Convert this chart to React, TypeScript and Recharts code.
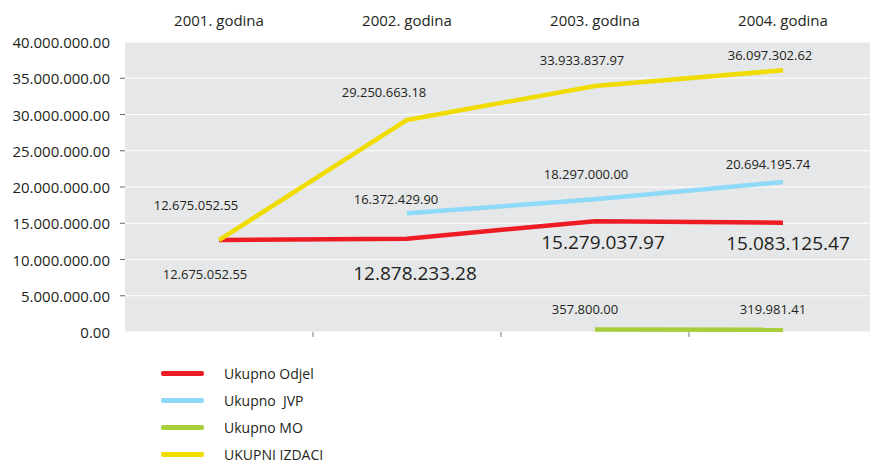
import React from 'react';
import { LineChart, Line, XAxis, YAxis, CartesianGrid, LabelList } from 'recharts';

const years = ['2001. godina', '2002. godina', '2003. godina', '2004. godina'];
const odjel = [12675052.55, 12878233.28, 15279037.97, 15083125.47];
const jvp = [null, 16372429.9, 18297000.0, 20694195.74];
const mo = [null, null, 357800.0, 319981.41];
const ukupno = [12675052.55, 29250663.18, 33933837.97, 36097302.62];
const yTicks = [0, 5000000, 10000000, 15000000, 20000000, 25000000, 30000000, 35000000, 40000000];

const data = years.map((year, i) => ({
  year,
  odjel: odjel[i],
  jvp: jvp[i],
  mo: mo[i],
  ukupno: ukupno[i],
}));

const fmt = (v: number) => {
  const [int, dec] = Math.abs(v).toFixed(2).split('.');
  return int.replace(/\B(?=(\d{3})+(?!\d))/g, '.') + '.' + dec;
};

const series = [
  { key: 'odjel', name: 'Ukupno Odjel', color: '#ed1c24' },
  { key: 'jvp', name: 'Ukupno  JVP', color: '#8ed8f8' },
  { key: 'mo', name: 'Ukupno MO', color: '#a6ce39' },
  { key: 'ukupno', name: 'UKUPNI IZDACI', color: '#f0dc00' },
];

// label placement (style, not data)
const labelStyle: Record<string, { dx: number[]; dy: number[]; size: number[] }> = {
  odjel: { dx: [-14, 8, 8, 5], dy: [34, 34, 21, 20], size: [13, 19, 19, 19] },
  jvp: { dx: [0, -11, -9, -15], dy: [0, -14, -25, -18], size: [13, 13, 13, 13] },
  mo: { dx: [0, 0, -10, -10], dy: [0, 0, -20, -21], size: [13, 13, 13, 13] },
  ukupno: { dx: [-23, -23, -13, -13], dy: [-35, -28, -26, -15], size: [13, 13, 13, 13] },
};

const makeLabel = (key: string) => (props: any) => {
  const { x, y, value, index } = props;
  if (value === null || value === undefined) return null;
  const s = labelStyle[key];
  return (
    <text
      x={x + s.dx[index]}
      y={y + s.dy[index]}
      textAnchor="middle"
      dominantBaseline="central"
      fontSize={s.size[index]}
      fill="#231f20"
      fontFamily='"Open Sans", sans-serif'
    >
      {fmt(Number(value))}
    </text>
  );
};

const YTick = (props: any) => {
  const { y, payload } = props;
  const v = payload.value;
  const showLine = v !== 0 && v !== 40000000;
  return (
    <g>
      {showLine && <line x1={120} x2={125} y1={y} y2={y} stroke="#666" strokeWidth={1} />}
      <text
        x={110}
        y={y}
        textAnchor="end"
        dominantBaseline="central"
        fontSize={15}
        fill="#231f20"
        fontFamily='"Open Sans", sans-serif'
      >
        {fmt(v)}
      </text>
    </g>
  );
};

// tick marks at the boundaries between categories
const BoundaryTick = (props: any) => {
  const { x, y, index, payload, visibleTicksCount } = props;
  const count = visibleTicksCount ?? years.length;
  if (index >= count - 1) return <g />;
  const half = payload && payload.offset ? payload.offset : 94;
  const bx = x + half;
  return <line x1={bx} x2={bx} y1={y} y2={y + 5} stroke="#777" strokeWidth={1} />;
};

export default function App() {
  return (
    <div
      style={{
        position: 'absolute',
        left: 0,
        top: 0,
        width: 870,
        height: 464,
        overflow: 'hidden',
        background: '#fff',
        fontFamily: '"Open Sans", sans-serif',
      }}
    >
      <div style={{ position: 'absolute', left: 0, top: 0 }}>
        <LineChart width={880} height={362} data={data} margin={{ top: 0, right: 3, bottom: 0, left: 0 }}>
          <CartesianGrid
            xAxisId="top"
            horizontal={true}
            vertical={false}
            fill="#e6e7e8"
            fillOpacity={1}
            stroke="#ffffff"
            strokeWidth={1.2}
          />
          <XAxis
            xAxisId="top"
            orientation="top"
            dataKey="year"
            scale="band"
            height={42}
            axisLine={false}
            tickLine={false}
            tickMargin={10}
            tick={{ fontSize: 15, fill: '#231f20', fontFamily: '"Open Sans", sans-serif' }}
            interval={0}
          />
          <XAxis
            xAxisId="bottom"
            dataKey="year"
            scale="band"
            tick={<BoundaryTick />}
            tickLine={false}
            tickSize={0}
            tickMargin={0}
            axisLine={false}
            height={30}
            interval={0}
          />
          <YAxis
            width={125}
            domain={[0, 40000000]}
            ticks={yTicks}
            axisLine={false}
            tickLine={false}
            tick={<YTick />}
            interval={0}
          />
          {series.map((s) => (
            <Line
              key={s.key}
              xAxisId="top"
              type="linear"
              dataKey={s.key}
              name={s.name}
              stroke={s.color}
              strokeWidth={4.5}
              dot={false}
              activeDot={false}
              isAnimationActive={false}
              connectNulls={false}
            >
              <LabelList dataKey={s.key} content={makeLabel(s.key)} />
            </Line>
          ))}
        </LineChart>
      </div>
      {series.map((s, i) => (
        <div
          key={s.key}
          style={{
            position: 'absolute',
            left: 161,
            top: 373 + i * 27.3 - 10,
            height: 20,
            display: 'flex',
            alignItems: 'center',
          }}
        >
          <div style={{ width: 43, height: 5, background: s.color, borderRadius: 2 }} />
          <span style={{ marginLeft: 20, fontSize: 14, color: '#231f20', whiteSpace: 'pre' }}>{s.name}</span>
        </div>
      ))}
    </div>
  );
}
